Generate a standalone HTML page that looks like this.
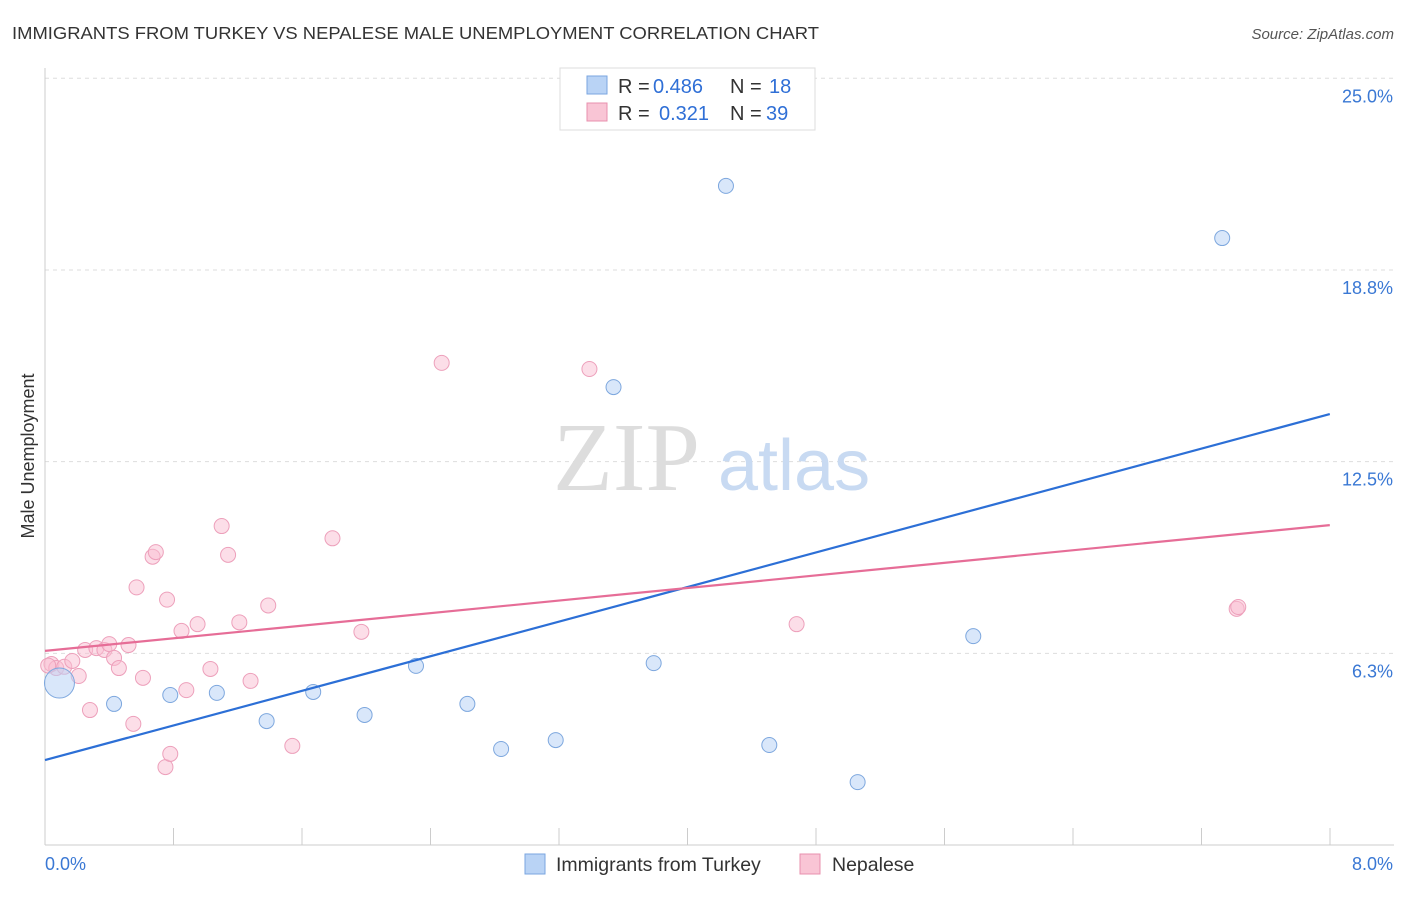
<!DOCTYPE html>
<html><head><meta charset="utf-8"><style>
body{margin:0;background:#fff;font-family:"Liberation Sans",sans-serif;}
</style></head><body>
<svg width="1406" height="892" xmlns="http://www.w3.org/2000/svg">
<text x="12" y="39" font-size="17.5" fill="#333" textLength="807" lengthAdjust="spacingAndGlyphs">IMMIGRANTS FROM TURKEY VS NEPALESE MALE UNEMPLOYMENT CORRELATION CHART</text>
<text x="1394" y="39" font-size="15" fill="#555" font-style="italic" text-anchor="end">Source: ZipAtlas.com</text>
<g id="grid"></g>
<g>
<text x="553" y="490" font-size="98" fill="#ddd" font-family="Liberation Serif,serif">ZIP</text>
<text x="718" y="490" font-size="72" fill="#c8daf2">atlas</text>
</g>
<g id="axes"></g>
<g id="marks"></g>
<text transform="translate(34,456) rotate(-90)" font-size="18" fill="#333" text-anchor="middle">Male Unemployment</text>
<g>
<rect x="560" y="68" width="255" height="62" fill="#fff" stroke="#ddd"/>
<rect x="587" y="76" width="20" height="18" fill="#b9d3f5" stroke="#7aa6e0"/>
<rect x="587" y="103" width="20" height="18" fill="#f9c5d5" stroke="#e890ae"/>
<text y="93" font-size="20" fill="#333"><tspan x="618">R =</tspan><tspan x="653" fill="#2f6fd6">0.486</tspan><tspan x="730">N =</tspan><tspan x="769" fill="#2f6fd6">18</tspan></text>
<text y="120" font-size="20" fill="#333"><tspan x="618">R =</tspan><tspan x="659" fill="#2f6fd6">0.321</tspan><tspan x="730">N =</tspan><tspan x="766" fill="#2f6fd6">39</tspan></text>
</g>
<g>
<rect x="525" y="854" width="20" height="20" fill="#b9d3f5" stroke="#7aa6e0"/>
<text x="556" y="871" font-size="19.5" fill="#333">Immigrants from Turkey</text>
<rect x="800" y="854" width="20" height="20" fill="#f9c5d5" stroke="#e890ae"/>
<text x="832" y="871" font-size="19.5" fill="#333">Nepalese</text>
</g>
</svg>
<script>
const yTicks=[6.25,12.5,18.75,25];
const yTickLabels=["6.3%","12.5%","18.8%","25.0%"];
const turkeyX=[0.09,0.43,0.78,1.07,1.38,1.67,1.99,2.31,2.63,2.84,3.18,3.54,3.79,4.24,4.51,5.06,5.78,7.33];
const turkeyY=[5.28,4.6,4.89,4.96,4.04,4.99,4.24,5.84,4.6,3.13,3.42,14.93,5.93,21.49,3.26,2.05,6.81,19.79];
const nepX=[0.04,0.07,0.12,0.17,0.21,0.25,0.28,0.32,0.37,0.40,0.43,0.46,0.52,0.55,0.57,0.61,0.67,0.69,0.75,0.76,0.78,0.85,0.88,0.95,1.03,1.10,1.14,1.21,1.28,1.39,1.54,1.79,1.97,2.47,3.39,4.68,7.42,7.43,0.02];
const nepY=[5.9,5.77,5.81,6.0,5.51,6.36,4.4,6.42,6.36,6.55,6.1,5.77,6.52,3.95,8.4,5.45,9.4,9.55,2.54,8.0,2.97,6.98,5.05,7.2,5.74,10.4,9.46,7.26,5.35,7.81,3.23,10.0,6.95,15.72,15.52,7.2,7.7,7.76,5.85];
const turkeyLine=[2.77,14.05];
const nepLine=[6.33,10.43];
const X=v=>45+v*160.6, Y=v=>845-v*30.67;
const NS="http://www.w3.org/2000/svg";
function mk(t,a,p){const e=document.createElementNS(NS,t);for(const k in a)e.setAttribute(k,a[k]);p.appendChild(e);return e;}
const grid=document.getElementById('grid'),axes=document.getElementById('axes'),marks=document.getElementById('marks');
yTicks.forEach((t,i)=>{
 const l=mk('line',{x1:45,x2:1394,y1:Y(t),y2:Y(t),stroke:'#ddd','stroke-dasharray':'4,4'},grid);
 
 
 const tx=mk('text',{x:1393,y:Y(t)+24,'font-size':18,fill:'#3a78d4','text-anchor':'end'},axes);
 tx.textContent=yTickLabels[i];
 
 
});
const ax=mk('line',{x1:45,x2:1394,y1:845,y2:845,stroke:'#ccc'},axes);


const ay=mk('line',{x1:45,x2:45,y1:68,y2:845,stroke:'#ccc'},axes);


for(let i=1;i<=10;i++){const x=45+i*128.5;const t=mk('line',{x1:x,x2:x,y1:828,y2:845,stroke:'#ccc'},axes);
 
 }
[["0.0%",45,'start'],["8.0%",1393,'end']].forEach(d=>{const t=mk('text',{x:d[1],y:870,'font-size':18,fill:'#3a78d4','text-anchor':d[2]},axes);t.textContent=d[0];
 
 });
nepX.forEach((x,i)=>{const c=mk('circle',{cx:X(x),cy:Y(nepY[i]),r:7.5,fill:'rgba(249,190,210,0.5)',stroke:'#eda0bb','stroke-width':1},marks);
 
 });
turkeyX.forEach((x,i)=>{const c=mk('circle',{cx:X(x),cy:Y(turkeyY[i]),r:i==0?15:7.5,fill:'rgba(185,211,245,0.55)',stroke:'#7da7de','stroke-width':1},marks);
 
 });
const l1=mk('line',{x1:X(0),y1:Y(turkeyLine[0]),x2:X(8),y2:Y(turkeyLine[1]),stroke:'#2c6fd6','stroke-width':2.2},marks);


const l2=mk('line',{x1:X(0),y1:Y(nepLine[0]),x2:X(8),y2:Y(nepLine[1]),stroke:'#e66d97','stroke-width':2.2},marks);


</script>
</body></html>
